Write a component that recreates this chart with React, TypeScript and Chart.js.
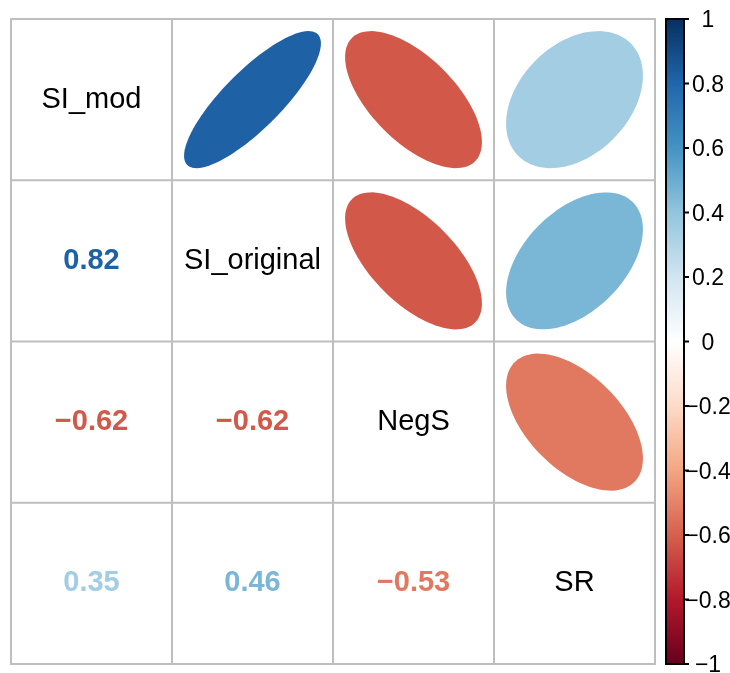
import React, { useEffect, useRef } from "react";
import { Chart, registerables } from "chart.js";

Chart.register(...registerables);

// ---- data ----
const variables = ["SI_mod", "SI_original", "NegS", "SR"];
const corrSI_mod = [1, 0.82, -0.62, 0.35];
const corrSI_original = [0.82, 1, -0.62, 0.46];
const corrNegS = [-0.62, -0.62, 1, -0.53];
const corrSR = [0.35, 0.46, -0.53, 1];
const colorbarTicks = [-1, -0.8, -0.6, -0.4, -0.2, 0, 0.2, 0.4, 0.6, 0.8, 1];
const paletteStops = [
  "#67001F", "#B2182B", "#D6604D", "#F4A582", "#FDDBC7", "#FFFFFF",
  "#D1E5F0", "#92C5DE", "#4393C3", "#2166AC", "#053061",
];

const corrMatrix = [corrSI_mod, corrSI_original, corrNegS, corrSR];

function hexToRgb(h: string) {
  const n = parseInt(h.slice(1), 16);
  return [(n >> 16) & 255, (n >> 8) & 255, n & 255];
}
function colorFor(v: number) {
  const pos = ((v + 1) / 2) * (paletteStops.length - 1);
  const i = Math.min(Math.floor(pos), paletteStops.length - 2);
  const t = pos - i;
  const a = hexToRgb(paletteStops[i]);
  const b = hexToRgb(paletteStops[i + 1]);
  const c = a.map((x, k) => Math.round(x + (b[k] - x) * t));
  return `rgb(${c[0]},${c[1]},${c[2]})`;
}
function fmt(v: number) {
  let s: string;
  if (v === 0) s = "0";
  else if (Math.abs(v) === 1) s = String(Math.abs(v));
  else s = Math.abs(v).toFixed(Math.abs(v * 10 - Math.round(v * 10)) < 1e-9 ? 1 : 2);
  return v < 0 ? "\u2212" + s : s;
}

const cellData = [] as { x: number; y: number; v: number; r: number; c: number }[];
corrMatrix.forEach((row, r) =>
  row.forEach((v, c) => cellData.push({ x: c + 0.5, y: r + 0.5, v, r, c }))
);

const corrPlugin = {
  id: "corrPlugin",
  afterDatasetsDraw(chart: any) {
    const { ctx, scales } = chart;
    const xs = scales.x;
    const ys = scales.y;
    const cb = scales.cb;
    const n = variables.length;
    ctx.save();
    // cells
    cellData.forEach((d) => {
      const cx = xs.getPixelForValue(d.x);
      const cy = ys.getPixelForValue(d.y);
      if (d.r === d.c) {
        ctx.fillStyle = "#000";
        ctx.font = "29px 'Liberation Sans', Arial, sans-serif";
        ctx.textAlign = "center";
        ctx.textBaseline = "middle";
        ctx.fillText(variables[d.r], cx, cy);
      } else if (d.c > d.r) {
        const rho = d.v;
        const h = Math.acos(rho) / 2;
        ctx.beginPath();
        const N = 99;
        for (let k = 0; k < N; k++) {
          const th = (2 * Math.PI * k) / (N - 1);
          const ex = (0.85 * Math.cos(th + h)) / 2;
          const ey = (0.85 * Math.cos(th - h)) / 2;
          const px = xs.getPixelForValue(d.x + ex);
          const py = ys.getPixelForValue(d.y - ey);
          if (k === 0) ctx.moveTo(px, py);
          else ctx.lineTo(px, py);
        }
        ctx.closePath();
        ctx.fillStyle = colorFor(rho);
        ctx.fill();
      } else {
        ctx.fillStyle = colorFor(d.v);
        ctx.font = "bold 29px 'Liberation Sans', Arial, sans-serif";
        ctx.textAlign = "center";
        ctx.textBaseline = "middle";
        ctx.fillText(fmt(d.v), cx, cy);
      }
    });
    // grid
    ctx.strokeStyle = "#BEBEBE";
    ctx.lineWidth = 2;
    for (let i = 0; i <= n; i++) {
      const px = xs.getPixelForValue(i);
      ctx.beginPath();
      ctx.moveTo(px, ys.getPixelForValue(0) - 1);
      ctx.lineTo(px, ys.getPixelForValue(n) + 1);
      ctx.stroke();
      const py = ys.getPixelForValue(i);
      ctx.beginPath();
      ctx.moveTo(xs.getPixelForValue(0) - 1, py);
      ctx.lineTo(xs.getPixelForValue(n) + 1, py);
      ctx.stroke();
    }
    // colorbar
    const left = 666;
    const right = 684;
    const top = cb.getPixelForValue(1);
    const bottom = cb.getPixelForValue(-1);
    const grad = ctx.createLinearGradient(0, bottom, 0, top);
    paletteStops.forEach((c, i) => grad.addColorStop(i / (paletteStops.length - 1), c));
    ctx.fillStyle = grad;
    ctx.fillRect(left, top, right - left, bottom - top);
    ctx.strokeStyle = "#000";
    ctx.lineWidth = 2;
    ctx.strokeRect(left, top, right - left, bottom - top);
    ctx.fillStyle = "#000";
    ctx.font = "23px 'Liberation Sans', Arial, sans-serif";
    ctx.textAlign = "center";
    ctx.textBaseline = "middle";
    colorbarTicks.forEach((t) => {
      const py = cb.getPixelForValue(t);
      ctx.beginPath();
      ctx.moveTo(right, py);
      ctx.lineTo(right + 5, py);
      ctx.stroke();
      ctx.fillText(fmt(t), 708, py + 2);
    });
    ctx.restore();
  },
};

export default function App() {
  const ref = useRef<HTMLCanvasElement | null>(null);
  useEffect(() => {
    if (!ref.current) return;
    const chart = new Chart(ref.current, {
      type: "scatter",
      data: {
        datasets: [
          {
            data: cellData.map((d) => ({ x: d.x, y: d.y })),
            pointRadius: 0,
            pointHoverRadius: 0,
          },
        ],
      },
      options: {
        animation: false,
        responsive: false,
        devicePixelRatio: 1,
        layout: { padding: { left: 11, right: 75, top: 19, bottom: 9 } },
        plugins: { legend: { display: false }, tooltip: { enabled: false } },
        events: [],
        scales: {
          x: { type: "linear", min: 0, max: 4, display: false },
          y: { type: "linear", min: 0, max: 4, reverse: true, display: false },
          cb: { type: "linear", axis: "y", position: "right", min: -1, max: 1, display: false },
        },
      },
      plugins: [corrPlugin],
    });
    return () => chart.destroy();
  }, []);
  return (
    <div style={{ position: "absolute", left: 0, top: 0, background: "#fff" }}>
      <canvas ref={ref} width={730} height={673} />
    </div>
  );
}
